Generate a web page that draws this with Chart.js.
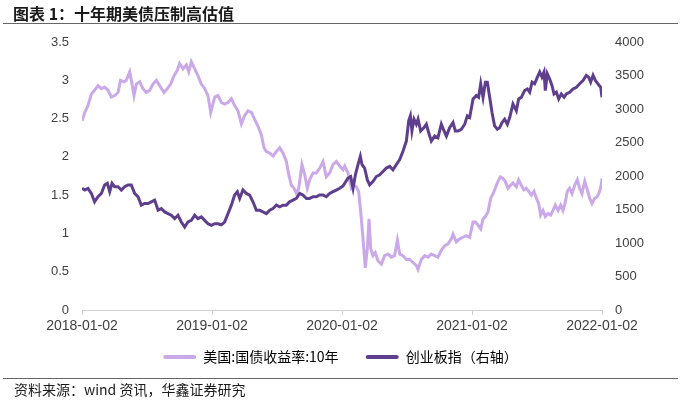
<!DOCTYPE html>
<html lang="zh-CN">

<head>
    <meta charset="UTF-8">
    <title>十年期美债压制高估值</title>
    <script src="https://cdn.jsdelivr.net/npm/chart.js"></script>
    <style>
        body {
            margin: 0;
            background: #fff;
        }

        .wrap {
            position: relative;
            width: 681px;
            height: 400px;
            overflow: hidden;
        }

        #chart {
            position: absolute;
            left: 0;
            top: 0;
        }

        .title {
            position: absolute;
            left: 13px;
            top: 1px;
            font: bold 16px "Noto Sans CJK SC", sans-serif;
            color: #1a1a1a;
        }

        .rule {
            position: absolute;
            left: 3px;
            right: 3px;
            height: 0;
            border-top: 1px solid #666;
        }

        .source {
            position: absolute;
            left: 14px;
            top: 379px;
            font: 14px "Noto Sans CJK SC", sans-serif;
            color: #1a1a1a;
        }
    </style>
</head>

<body>
    <div class="wrap">
        <canvas id="chart" width="681" height="400"></canvas>
        <div class="title">图表 1：十年期美债压制高估值</div>
        <div class="rule" style="top:23px"></div>
        <div class="rule" style="top:378px"></div>
        <div class="source">资料来源：wind 资讯，华鑫证券研究</div>
    </div>

    <script>
        // 时间轴：距 2018-01-02 的年数
        const yearTicks = ['2018-01-02', '2019-01-02', '2020-01-02', '2021-01-02', '2022-01-02'];

        // 美国:国债收益率:10年 (%)
        const ustT = [
            0.000, 0.021, 0.046, 0.072, 0.097, 0.123, 0.149, 0.174, 0.200, 0.226, 0.251, 0.277, 0.297, 0.323, 0.341,
            0.367, 0.385, 0.400, 0.418, 0.444, 0.469, 0.495, 0.521, 0.546, 0.572, 0.597, 0.631, 0.656, 0.682, 0.708,
            0.733, 0.751, 0.777, 0.803, 0.821, 0.841, 0.867, 0.892, 0.918, 0.944, 0.969, 0.990,
            1.021, 1.046, 1.072, 1.097, 1.123, 1.149, 1.174, 1.200, 1.226, 1.251, 1.277, 1.303, 1.328, 1.354, 1.379,
            1.400, 1.418, 1.444, 1.469, 1.495, 1.521, 1.546, 1.572, 1.590, 1.610, 1.631, 1.649, 1.667, 1.692, 1.713,
            1.733, 1.751, 1.777, 1.803, 1.828, 1.854, 1.879, 1.905, 1.931, 1.956, 1.982, 2.008,
            2.021, 2.046, 2.072, 2.092, 2.110, 2.128, 2.144, 2.162, 2.179, 2.195, 2.208, 2.221, 2.238, 2.256, 2.277,
            2.303, 2.328, 2.354, 2.379, 2.405, 2.426, 2.444, 2.469, 2.495, 2.521, 2.546, 2.572, 2.585, 2.610, 2.636,
            2.662, 2.687, 2.713, 2.738, 2.764, 2.790, 2.815, 2.841, 2.854, 2.879, 2.905, 2.931, 2.956, 2.982, 3.008,
            3.026, 3.046, 3.067, 3.085, 3.103, 3.123, 3.144, 3.162, 3.179, 3.200, 3.218, 3.238, 3.256, 3.277, 3.297,
            3.315, 3.341, 3.359, 3.379, 3.400, 3.418, 3.436, 3.456, 3.477, 3.495, 3.513, 3.528, 3.546, 3.564, 3.585,
            3.605, 3.623, 3.641, 3.662, 3.682, 3.700, 3.718, 3.733, 3.751, 3.769, 3.790, 3.810, 3.828, 3.846, 3.867,
            3.887, 3.905, 3.923, 3.944, 3.964, 3.982, 3.994, 4.000
        ];
        const ustYield = [
            2.47, 2.58, 2.67, 2.82, 2.87, 2.93, 2.89, 2.91, 2.87, 2.78, 2.80, 2.84, 3.00, 2.98, 3.00,
            3.11, 2.95, 2.80, 2.95, 2.98, 2.89, 2.84, 2.87, 2.95, 3.00, 2.93, 2.84, 2.89, 2.95, 3.06,
            3.13, 3.22, 3.15, 3.20, 3.11, 3.24, 3.15, 3.06, 2.95, 2.89, 2.80, 2.58,
            2.78, 2.80, 2.71, 2.69, 2.71, 2.76, 2.67, 2.60, 2.43, 2.54, 2.60, 2.58, 2.49, 2.40, 2.29,
            2.12, 2.07, 2.05, 2.01, 2.07, 2.12, 2.05, 1.94, 1.77, 1.63, 1.59, 1.52, 1.59, 1.90, 1.77,
            1.59, 1.70, 1.79, 1.79, 1.85, 1.94, 1.74, 1.79, 1.90, 1.94, 1.88, 1.83,
            1.88, 1.79, 1.59, 1.63, 1.61, 1.55, 1.28, 0.93, 0.55, 0.80, 1.19, 0.80, 0.71, 0.75, 0.64,
            0.60, 0.71, 0.73, 0.69, 0.71, 0.91, 0.73, 0.71, 0.66, 0.66, 0.62, 0.58, 0.53, 0.66, 0.71,
            0.69, 0.73, 0.71, 0.69, 0.78, 0.84, 0.86, 0.93, 0.99, 0.89, 0.93, 0.95, 0.97, 0.95, 1.15,
            1.15, 1.11, 1.06, 1.19, 1.22, 1.28, 1.46, 1.52, 1.59, 1.68, 1.74, 1.72, 1.68, 1.59, 1.63,
            1.66, 1.61, 1.70, 1.63, 1.57, 1.59, 1.55, 1.50, 1.55, 1.46, 1.39, 1.24, 1.30, 1.22, 1.26,
            1.24, 1.30, 1.37, 1.30, 1.37, 1.30, 1.41, 1.55, 1.59, 1.52, 1.63, 1.70, 1.59, 1.52, 1.68,
            1.57, 1.46, 1.39, 1.46, 1.48, 1.55, 1.63, 1.72
        ];

        // 创业板指（右轴）
        const cybT = [
            0.000, 0.021, 0.046, 0.072, 0.097, 0.123, 0.149, 0.174, 0.195, 0.213, 0.231, 0.251, 0.277, 0.303, 0.328,
            0.354, 0.379, 0.405, 0.431, 0.456, 0.482, 0.508, 0.533, 0.559, 0.585, 0.610, 0.636, 0.662, 0.687, 0.713,
            0.738, 0.764, 0.790, 0.815, 0.841, 0.867, 0.892, 0.918, 0.944, 0.969, 0.995,
            1.021, 1.046, 1.072, 1.097, 1.123, 1.149, 1.174, 1.195, 1.213, 1.238, 1.264, 1.290, 1.315, 1.341, 1.367,
            1.392, 1.418, 1.444, 1.469, 1.495, 1.521, 1.546, 1.572, 1.597, 1.623, 1.649, 1.674, 1.700, 1.726, 1.751,
            1.777, 1.803, 1.828, 1.854, 1.879, 1.905, 1.931, 1.956, 1.982, 2.008,
            2.021, 2.046, 2.067, 2.085, 2.103, 2.123, 2.141, 2.154, 2.174, 2.195, 2.213, 2.238, 2.264, 2.290, 2.315,
            2.341, 2.367, 2.392, 2.418, 2.444, 2.469, 2.495, 2.513, 2.526, 2.538, 2.554, 2.572, 2.585, 2.605, 2.631,
            2.649, 2.667, 2.687, 2.713, 2.738, 2.764, 2.785, 2.803, 2.828, 2.854, 2.872, 2.892, 2.918, 2.944, 2.964,
            2.982,
            3.008, 3.033, 3.051, 3.067, 3.085, 3.103, 3.118, 3.136, 3.154, 3.174, 3.195, 3.213, 3.231, 3.251, 3.272,
            3.290, 3.315, 3.341, 3.359, 3.379, 3.405, 3.426, 3.444, 3.462, 3.482, 3.503, 3.521, 3.538, 3.554, 3.564,
            3.579, 3.597, 3.615, 3.631, 3.649, 3.667, 3.687, 3.708, 3.726, 3.751, 3.777, 3.803, 3.828, 3.854, 3.879,
            3.897, 3.913, 3.931, 3.949, 3.969, 3.990, 4.000
        ];
        const cybIndex = [
            1816, 1791, 1816, 1740, 1615, 1690, 1740, 1867, 1891, 1766, 1891, 1841, 1841, 1791, 1841,
            1867, 1867, 1740, 1690, 1565, 1590, 1590, 1615, 1640, 1490, 1514, 1464, 1439, 1414, 1363,
            1414, 1313, 1238, 1313, 1338, 1414, 1363, 1389, 1338, 1288, 1263,
            1288, 1288, 1272, 1313, 1439, 1565, 1716, 1766, 1665, 1791, 1740, 1716, 1615, 1490, 1490,
            1464, 1439, 1490, 1514, 1565, 1540, 1565, 1565, 1615, 1640, 1665, 1740, 1716, 1665, 1665,
            1690, 1690, 1716, 1716, 1690, 1740, 1766, 1790, 1816, 1850,
            1891, 1967, 1992, 1816, 2018, 2169, 2294, 2169, 2118, 1942, 1867, 1917, 1992, 2018, 2068,
            2118, 2143, 2093, 2169, 2244, 2370, 2521, 2823, 2898, 2672, 2848, 2773, 2848, 2672, 2722,
            2773, 2646, 2521, 2596, 2571, 2773, 2672, 2596, 2722, 2797, 2672, 2672, 2697, 2773, 2898,
            2873,
            3150, 3200, 3174, 3376, 3174, 3401, 3401, 3174, 2948, 2747, 2697, 2722, 2797, 2848, 2773,
            2873, 3074, 2974, 3150, 3174, 3275, 3300, 3250, 3401, 3376, 3476, 3552, 3476, 3552, 3275,
            3527, 3452, 3351, 3225, 3250, 3150, 3225, 3174, 3225, 3250, 3300, 3325, 3376, 3426, 3502,
            3476, 3401, 3502, 3426, 3376, 3325, 3174
        ];

        const lightPurple = '#cba9e8';
        const darkPurple = '#5f3f8d';
        const tickColor = '#404040';
        const latinFont = '"Liberation Sans", Arial, sans-serif';
        const cjkFont = '"Noto Sans CJK SC", sans-serif';

        function toPoints(ts, vs) {
            return ts.map((t, i) => ({ x: t, y: vs[i] }));
        }

        const ctx = document.getElementById('chart').getContext('2d');

        const chart = new Chart(ctx, {
            type: 'line',
            data: {
                datasets: [{
                    label: '美国:国债收益率:10年',
                    data: toPoints(ustT, ustYield),
                    yAxisID: 'y',
                    borderColor: lightPurple,
                    backgroundColor: lightPurple,
                    borderWidth: 3,
                    pointRadius: 0,
                    tension: 0,
                    order: 2
                }, {
                    label: '创业板指（右轴）',
                    data: toPoints(cybT, cybIndex),
                    yAxisID: 'y1',
                    borderColor: darkPurple,
                    backgroundColor: darkPurple,
                    borderWidth: 3,
                    pointRadius: 0,
                    tension: 0,
                    order: 1
                }]
            },
            options: {
                responsive: false,
                animation: false,
                layout: {
                    padding: { top: 42, bottom: 26, left: 0, right: 0 }
                },
                plugins: {
                    tooltip: { enabled: false },
                    legend: {
                        position: 'bottom',
                        labels: {
                            boxWidth: 33,
                            boxHeight: 4,
                            padding: 10,
                            color: tickColor,
                            font: { size: 14, family: cjkFont },
                            generateLabels(chart) {
                                // 第一项后面留出一些间隔
                                return chart.data.datasets.map((ds, i) => ({
                                    text: i === 0 ? ds.label + '\u3000 ' : ds.label,
                                    fillStyle: ds.borderColor,
                                    strokeStyle: ds.borderColor,
                                    lineWidth: 0,
                                    borderRadius: 2,
                                    datasetIndex: i,
                                    hidden: false
                                }));
                            }
                        }
                    }
                },
                scales: {
                    x: {
                        type: 'linear',
                        min: 0,
                        max: 4,
                        afterFit(scale) { scale.height = 30; },
                        ticks: {
                            stepSize: 1,
                            autoSkip: false,
                            maxRotation: 0,
                            padding: 3,
                            color: tickColor,
                            font: { size: 14, family: latinFont },
                            callback: (v) => Number.isInteger(v) ? yearTicks[v] : ''
                        },
                        grid: {
                            drawOnChartArea: false,
                            tickLength: 5,
                            color: '#d0d0d0'
                        },
                        border: { color: '#d0d0d0' }
                    },
                    y: {
                        position: 'left',
                        min: 0,
                        max: 3.5,
                        afterFit(scale) { scale.width = 82; },
                        ticks: {
                            stepSize: 0.5,
                            padding: 13,
                            color: tickColor,
                            font: { size: 13, family: latinFont },
                            callback: (v) => String(v)
                        },
                        grid: { display: false, drawTicks: false },
                        border: { display: false }
                    },
                    y1: {
                        position: 'right',
                        min: 0,
                        max: 4000,
                        afterFit(scale) { scale.width = 79; },
                        ticks: {
                            stepSize: 500,
                            padding: 13,
                            color: tickColor,
                            font: { size: 13, family: latinFont },
                            callback: (v) => String(v)
                        },
                        grid: { display: false, drawTicks: false },
                        border: { display: false }
                    }
                }
            }
        });
    </script>
</body>

</html>
